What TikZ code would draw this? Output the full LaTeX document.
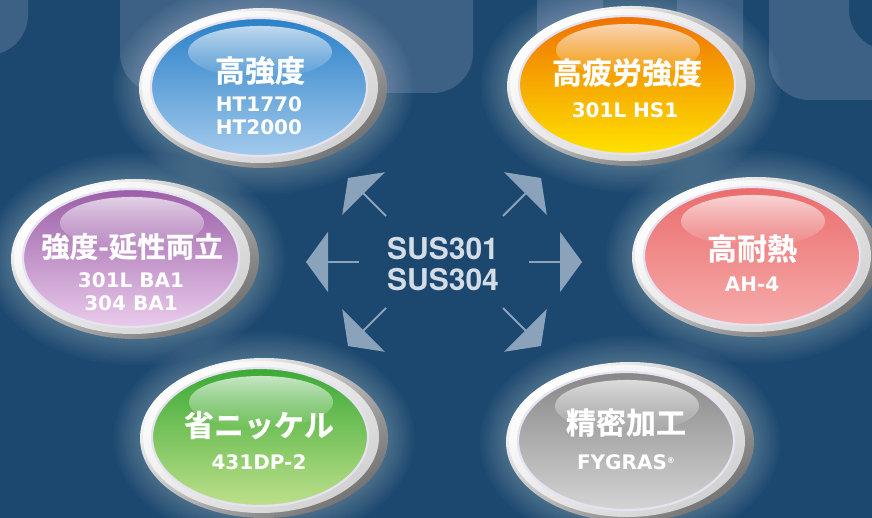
\documentclass[tikz,border=0pt]{standalone}
\usepackage{fontspec}
\newfontfamily\cjk{Noto Sans CJK JP Bold}[FakeBold=0.7]
\newfontfamily\lat{DejaVu Sans Bold}
\newfontfamily\hel{texgyreheros-bold.otf}
\usetikzlibrary{shapes.geometric,arrows.meta,fadings}
\tikzfading[name=hlfade, top color=transparent!30, bottom color=transparent!100]
\definecolor{bg}{HTML}{1C4870}
\definecolor{arrowc}{HTML}{8BA3BA}
\definecolor{centc}{HTML}{D4DCE6}
\definecolor{ringedge}{HTML}{E6E2F2}
\definecolor{blueT}{HTML}{2A80C8}\definecolor{blueB}{HTML}{A2CAEC}
\definecolor{oranT}{HTML}{EE7202}\definecolor{oranB}{HTML}{FFE200}
\definecolor{purpT}{HTML}{9B5FA8}\definecolor{purpB}{HTML}{E9CBEB}
\definecolor{redT}{HTML}{EB6C6C}\definecolor{redB}{HTML}{F6ACAC}
\definecolor{grnT}{HTML}{3BAA36}\definecolor{grnB}{HTML}{BEE08A}
\definecolor{gryT}{HTML}{878787}\definecolor{gryB}{HTML}{D4D4D4}
\tikzset{
  badge/.style={ellipse, minimum width=216pt, minimum height=138pt, inner sep=0pt,
    draw=ringedge, line width=2.2pt},
  title/.style={font=\cjk\fontsize{30}{30}\selectfont, text=white, inner sep=0pt},
  sub/.style={font=\lat\fontsize{20}{20}\selectfont, text=white, inner sep=0pt},
  ray/.style={draw=arrowc, fill=arrowc, line width=2pt, -{Triangle[width=60pt,length=22pt]}},
  letter/.style={fill=white, opacity=0.14, even odd rule, rounded corners=40pt}
}
\newcommand\mybadge[5]{%
  \foreach \i in {1,...,12}{\fill[white,opacity=0.02] (#2+4,#3+1) ellipse [x radius=124+2.2*\i, y radius=80+2.2*\i];}
  \shade[top color=white, bottom color=black!55, shading angle=35] (#2+4,#3+1) ellipse [x radius=124, y radius=80];
  \shade[top color=white, bottom color=black!18, shading angle=35] (#2+1,#3) ellipse [x radius=118, y radius=76];
  \node[badge, top color=#4, bottom color=#5] (#1) at (#2,#3) {};
  \fill[white, path fading=hlfade] (#2+1,#3-35) ellipse [x radius=72, y radius=26];
}
\begin{document}
\begin{tikzpicture}[x=1pt,y=-1pt]
\useasboundingbox (0,0) rectangle (872,518);
\clip (0,0) rectangle (872,518);
\fill[bg] (0,0) rectangle (872,518);
% faint giant letters
\fill[letter] (-60,-60) -- (28,-60) -- (28,55) -- (-60,55) -- cycle;
\fill[letter] (120,-60) -- (473,-60) -- (473,93) -- (120,93) -- cycle;
\fill[letter] (537,-60) -- (743,-60) -- (743,100) -- (537,100) -- cycle
              (603,-60) -- (677,-60) -- (677,45) -- (603,45) -- cycle;
\fill[letter] (769,-60) -- (1010,-60) -- (1010,100) -- (769,100) -- cycle
              (849,-60) -- (930,-60) -- (930,50) -- (849,50) -- cycle;
% badges
\mybadge{hs}{259}{87}{blueT}{blueB}
\mybadge{hf}{627}{85}{oranT}{oranB}
\mybadge{sd}{131}{258}{purpT}{purpB}
\mybadge{ht}{752}{256}{redT}{redB}
\mybadge{sn}{260}{437}{grnT}{grnB}
\mybadge{pm}{626}{441}{gryT}{gryB}
% texts
\node[title] (t1) at (260,70.5) {高強度};
\node[sub] (s1a) at (259,104.5) {HT1770};
\node[sub] (s1b) at (259,127.5) {HT2000};
\node[title] (t2) at (627,72.5) {高疲労強度};
\node[sub] (s2) at (625,110.5) {301L HS1};
\node[title, font=\cjk\fontsize{28.5}{28.5}\selectfont] (t3) at (132,246.5) {強度-延性両立};
\node[sub] (s3a) at (131,280) {301L BA1};
\node[sub] (s3b) at (131,303.5) {304 BA1};
\node[title] (t4) at (752,248.5) {高耐熱};
\node[sub] (s4) at (752,284.5) {AH-4};
\node[title] (t5) at (259,425) {省ニッケル};
\node[sub] (s5) at (259,462.5) {431DP-2};
\node[title] (t6) at (626,422.5) {精密加工};
\node[sub] (s6) at (626,462.5) {FYGRAS\smash{\raisebox{6pt}{\fontsize{8}{8}\selectfont ®}}};
% center
\node[font=\hel\fontsize{30}{31}\selectfont, text=centc, align=center, inner sep=0pt] (core) at (443,264) {SUS301\\SUS304};
% arrows
\coordinate (als) at (359,262); \coordinate (alt) at (306,262);
\coordinate (ars) at (529,262); \coordinate (art) at (582,262);
\coordinate (auls) at (386,216); \coordinate (ault) at (348,178);
\coordinate (aurs) at (503,216); \coordinate (aurt) at (541,178);
\coordinate (adls) at (386,308); \coordinate (adlt) at (348,346);
\coordinate (adrs) at (503,308); \coordinate (adrt) at (541,346);
\draw[ray] (als) -- (alt);
\draw[ray] (ars) -- (art);
\draw[ray] (auls) -- (ault);
\draw[ray] (aurs) -- (aurt);
\draw[ray] (adls) -- (adlt);
\draw[ray] (adrs) -- (adrt);
\end{tikzpicture}
\end{document}
